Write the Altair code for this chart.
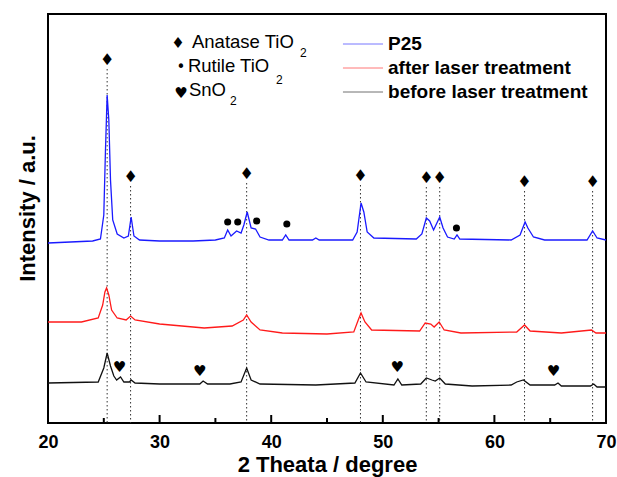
import altair as alt
import pandas as pd

FONT = "Liberation Sans"

# ---- XRD patterns (2θ in degree, intensity in a.u.) ----
p25_x = [20, 22, 24, 24.7, 25.0, 25.15, 25.3, 25.45, 25.6, 25.8, 26.2, 26.8, 27.2, 27.45, 27.7,
         28.2, 30, 33, 35, 35.8, 36.1, 36.4, 36.9, 37.3, 37.55, 37.85, 38.2, 38.6, 39.0, 39.8,
         41.0, 41.3, 41.6, 43.7, 44.0, 44.3, 47.3, 47.7, 48.05, 48.3, 48.6, 49.2, 53.0, 53.5, 53.9,
         54.2, 54.55, 55.1, 55.4, 55.8, 56.4, 56.65, 56.9, 61.5, 62.3, 62.75, 63.0, 63.5, 64.5, 68.3,
         68.8, 69.2, 70]
p25_y = [180, 181, 182, 184, 208, 273, 328, 303, 243, 203, 189, 185, 187, 206, 187,
         183, 182, 182, 183, 185, 193, 187, 192, 190, 198, 211, 195, 194, 186, 183,
         183, 188, 183, 183, 185, 183, 183, 191, 220, 211, 191, 185, 184, 189, 205,
         202, 193, 206, 195, 186, 184, 188, 184, 183, 188, 201, 195, 186, 183, 183,
         192, 185, 183]

after_x = [20, 23, 24.5, 24.9, 25.1, 25.25, 25.45, 25.7, 26.2, 27.0, 27.4, 27.8, 30, 34, 36.5,
           37.5, 37.8, 38.2, 39, 41, 45, 47.4, 47.8, 48.05, 48.4, 49, 53.3, 53.8, 54.3, 54.6,
           55.05, 55.5, 57, 62, 62.7, 63.2, 66, 68.7, 69.1, 70]
after_y = [101, 101, 105, 118, 131, 135, 128, 113, 105, 103, 107, 103, 99, 95, 97,
           103, 108, 101, 93, 90, 89, 91, 103, 110, 101, 93, 92, 100, 99, 96,
           101, 93, 90, 91, 98, 92, 90, 93, 90, 90]

before_x = [20, 24.5, 25.0, 25.3, 25.6, 25.9, 26.15, 26.5, 26.8, 27.3, 27.45, 27.8, 30, 33.6, 33.9,
            34.3, 36.3, 37.3, 37.8, 38.2, 39, 44, 47.5, 48.0, 48.5, 51, 51.35, 51.7, 53.4, 53.9,
            54.4, 54.7, 55.1, 55.6, 58, 61.5, 62.0, 62.6, 63.2, 65.4, 65.7, 66, 68.6, 68.9, 69.2, 70]
before_y = [40, 41, 55, 70, 57, 47, 43, 46, 41, 41, 43, 40, 39, 39, 42,
            39, 39, 41, 55, 43, 39, 38, 40, 50, 41, 38, 44, 38, 39, 45,
            43, 42, 45, 39, 37, 38, 41, 43, 38, 38, 40, 37, 37, 39, 36, 36]

series_names = ["P25", "after laser treatment", "before laser treatment"]
series_colors = ["#1a1aff", "#ff1a1a", "#111111"]

# ---- phase markers ----
anatase_x = [25.3, 27.4, 37.8, 48.0, 53.9, 55.1, 62.7, 68.8]
anatase_y = [363, 246, 249, 247, 245, 245, 241, 241]
rutile_x = [36.1, 37.0, 38.7, 41.4, 56.6]
rutile_y = [201, 201, 202, 199, 195]
sno2_x = [26.4, 33.6, 51.3, 65.3]
sno2_y = [56, 52, 56, 52]

# ---- axis ticks ----
major_ticks = [20, 30, 40, 50, 60, 70]
minor_ticks = [25, 35, 45, 55, 65]

# ---- legend contents ----
sym_glyphs = ["♦", "•", "♥"]
sym_labels = ["Anatase TiO", "Rutile TiO", "SnO"]
sym_glyph_x = [31.65, 31.92, 31.92]
sym_glyph_y = [380, 356, 330]
sym_label_x = [32.9, 32.54, 32.63]
sym_label_y = [381, 357, 333]
sub_x = [42.58, 40.43, 36.31]
sub_y = [370, 343, 322]
line_leg_x1 = [46.43, 46.43, 46.43]
line_leg_x2 = [50.02, 50.02, 50.02]
line_leg_y = [379, 355, 331]
line_leg_text_x = [50.47, 50.47, 50.47]

# ---------------------------------------------------------------
rows = []
for name, xs, ys in zip(series_names, [p25_x, after_x, before_x], [p25_y, after_y, before_y]):
    for i, (a, b) in enumerate(zip(xs, ys)):
        rows.append({"series": name, "theta": a, "inten": b, "idx": i})
df = pd.DataFrame(rows)

xscale = alt.Scale(domain=[20, 70], nice=False, zero=False)
yscale = alt.Scale(domain=[0, 409], nice=False, zero=False)
cscale = alt.Scale(domain=series_names, range=series_colors)

xaxis = alt.Axis(values=major_ticks, ticks=False, domain=False, grid=False,
                 labelFont=FONT, labelFontSize=18, labelFontWeight="bold", labelColor="black",
                 labelPadding=10, labelFlush=False,
                 title="2 Theata / degree", titleFont=FONT, titleFontSize=22,
                 titleFontWeight="bold", titleColor="black", titleY=48,
                 titleBaseline="alphabetic")
yaxis = alt.Axis(labels=False, ticks=False, domain=False, grid=False,
                 title="Intensity / a.u.", titleFont=FONT, titleFontSize=22,
                 titleFontWeight="bold", titleColor="black", titleAngle=270,
                 titleX=-21, titleY=194, titleAlign="center", titleBaseline="middle")


def X(field):
    return alt.X(field, type="quantitative", scale=xscale, axis=xaxis)


def Y(field):
    return alt.Y(field, type="quantitative", scale=yscale, axis=yaxis)


lines = alt.Chart(df).mark_line(strokeWidth=1.3).encode(
    x=X("theta"), y=Y("inten"),
    color=alt.Color("series:N", scale=cscale, legend=None),
    order="idx:Q",
)

ana = pd.DataFrame({"x": anatase_x, "y": anatase_y,
                    "ytop": [v - 9 for v in anatase_y], "y0": [0] * len(anatase_x)})
drop_lines = alt.Chart(ana).mark_rule(color="#333333", strokeWidth=1, strokeDash=[1.5, 2.5]).encode(
    x=X("x"), y=Y("ytop"), y2="y0")
diamonds = alt.Chart(ana).mark_text(text="♦", fontSize=16, color="black",
                                    font="DejaVu Sans", baseline="middle").encode(x=X("x"), y=Y("y"))

rut = pd.DataFrame({"x": rutile_x, "y": rutile_y})
circles = alt.Chart(rut).mark_circle(size=50, color="black", opacity=1).encode(x=X("x"), y=Y("y"))

sn = pd.DataFrame({"x": sno2_x, "y": sno2_y})
hearts = alt.Chart(sn).mark_text(text="♥", fontSize=15, color="black",
                                 font="DejaVu Sans", baseline="middle").encode(x=X("x"), y=Y("y"))

tk = pd.DataFrame({"x": major_ticks + minor_ticks,
                   "y0": [0] * (len(major_ticks) + len(minor_ticks)),
                   "y1": [8] * len(major_ticks) + [5] * len(minor_ticks)})
ticks = alt.Chart(tk).mark_rule(color="black", strokeWidth=2).encode(x=X("x"), y=Y("y0"), y2="y1")

sym = pd.DataFrame({"g": sym_glyphs, "gx": sym_glyph_x, "gy": sym_glyph_y,
                    "t": sym_labels, "tx": sym_label_x, "ty": sym_label_y,
                    "sx": sub_x, "sy": sub_y, "s": ["2", "2", "2"]})
sym_glyph_layer = alt.Chart(sym).mark_text(fontSize=15, color="black", font="DejaVu Sans",
                                           baseline="middle").encode(x=X("gx"), y=Y("gy"), text="g:N")
sym_text_layer = alt.Chart(sym).mark_text(fontSize=18.5, color="black", font=FONT, align="left",
                                          baseline="middle").encode(x=X("tx"), y=Y("ty"), text="t:N")
sub_layer = alt.Chart(sym).mark_text(fontSize=12, color="black", font=FONT, align="left",
                                     baseline="middle").encode(x=X("sx"), y=Y("sy"), text="s:N")

leg = pd.DataFrame({"series": series_names, "x1": line_leg_x1, "x2": line_leg_x2,
                    "y": line_leg_y, "tx": line_leg_text_x})
leg_lines = alt.Chart(leg).mark_rule(strokeWidth=1, opacity=0.6).encode(
    x=X("x1"), x2="x2", y=Y("y"), color=alt.Color("series:N", scale=cscale, legend=None))
leg_text = alt.Chart(leg).mark_text(fontSize=19, fontWeight="bold", color="black", font=FONT,
                                    align="left", baseline="middle").encode(
    x=X("tx"), y=Y("y"), text="series:N")

chart = alt.layer(
    drop_lines, lines, ticks, diamonds, circles, hearts,
    sym_glyph_layer, sym_text_layer, sub_layer, leg_lines, leg_text
).properties(
    width=558, height=409,
    autosize=alt.AutoSizeParams(type="none"),
    padding={"left": 48, "top": 14, "right": 11, "bottom": 54},
    background="white",
).configure_view(stroke="black", strokeWidth=2)

chart.save("out.html", embed_options={"renderer": "svg", "actions": False})
